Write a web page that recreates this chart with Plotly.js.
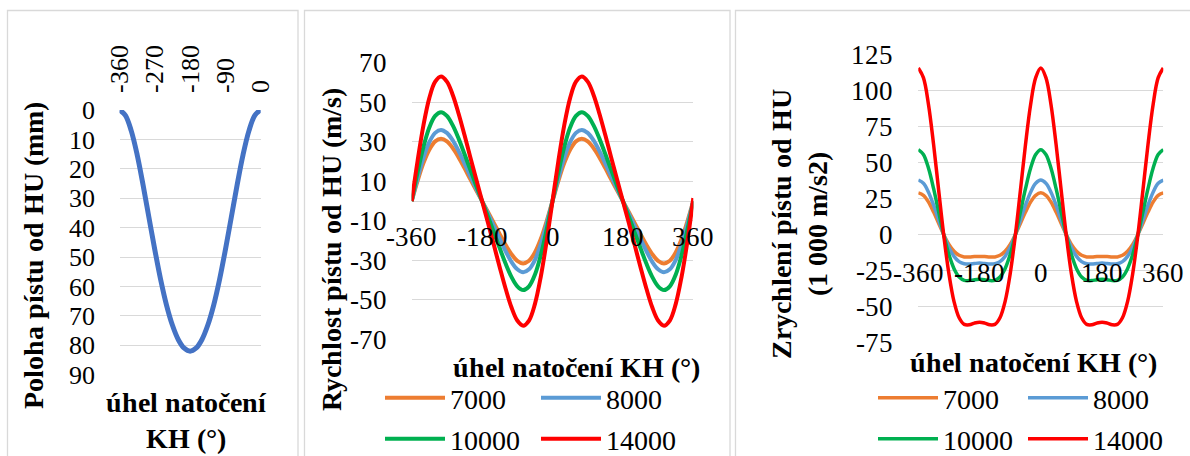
<!DOCTYPE html>
<html>
<head>
<meta charset="utf-8">
<script src="https://cdn.plot.ly/plotly-3.0.1.min.js"></script>
<style>
  @font-face { font-family: 'RefSerif'; src: local('Liberation Serif'), local('LiberationSerif'), local('Liberation Serif Regular'); font-weight: 400; font-style: normal; }
  @font-face { font-family: 'RefSerif'; src: local('Liberation Serif Bold'), local('LiberationSerif-Bold'); font-weight: 700; font-style: normal; }
  html, body { margin: 0; padding: 0; background: #fff; overflow: hidden; }
  #chart { width: 1190px; height: 480px; }
</style>
</head>
<body>
<div id="chart"></div>
<script>
// ---------- DATA ----------
// crank angle (deg) for position chart
const anglesPos = [-360,-345,-330,-315,-300,-285,-270,-255,-240,-225,-210,-195,-180,-165,-150,-135,-120,-105,-90,-75,-60,-45,-30,-15,0];
// piston position from TDC (mm)
const position = [0,1.8,7.1,15.2,25.4,36.5,47.5,57.7,66.4,73.2,78.1,81.0,82.0,81.0,78.1,73.2,66.4,57.7,47.5,36.5,25.4,15.2,7.1,1.8,0];

// crank angle (deg) for velocity / acceleration charts
const angles = [-360,-345,-330,-315,-300,-285,-270,-255,-240,-225,-210,-195,-180,-165,-150,-135,-120,-105,-90,-75,-60,-45,-30,-15,0,15,30,45,60,75,90,105,120,135,150,165,180,195,210,225,240,255,270,285,300,315,330,345,360];

const seriesNames = ['7000','8000','10000','14000'];
const seriesColors = ['#ED7D31','#5B9BD5','#00B050','#FF0000'];

// piston velocity (m/s)
const vel7000  = [0,10.2,19.2,26.0,30.2,31.5,30.2,26.8,22.1,16.7,11.0,5.5,0,-5.5,-11.0,-16.7,-22.1,-26.8,-30.2,-31.5,-30.2,-26.0,-19.2,-10.2,0,10.2,19.2,26.0,30.2,31.5,30.2,26.8,22.1,16.7,11.0,5.5,0,-5.5,-11.0,-16.7,-22.1,-26.8,-30.2,-31.5,-30.2,-26.0,-19.2,-10.2,0];
const vel8000  = [0,11.6,21.9,29.8,34.5,36.0,34.5,30.7,25.3,19.1,12.6,6.3,0,-6.3,-12.6,-19.1,-25.3,-30.7,-34.5,-36.0,-34.5,-29.8,-21.9,-11.6,0,11.6,21.9,29.8,34.5,36.0,34.5,30.7,25.3,19.1,12.6,6.3,0,-6.3,-12.6,-19.1,-25.3,-30.7,-34.5,-36.0,-34.5,-29.8,-21.9,-11.6,0];
const vel10000 = [0,14.5,27.4,37.2,43.1,45.0,43.1,38.3,31.6,23.8,15.8,7.8,0,-7.8,-15.8,-23.8,-31.6,-38.3,-43.1,-45.0,-43.1,-37.2,-27.4,-14.5,0,14.5,27.4,37.2,43.1,45.0,43.1,38.3,31.6,23.8,15.8,7.8,0,-7.8,-15.8,-23.8,-31.6,-38.3,-43.1,-45.0,-43.1,-37.2,-27.4,-14.5,0];
const vel14000 = [0,20.3,38.3,52.1,60.4,63.0,60.4,53.7,44.2,33.4,22.1,11.0,0,-11.0,-22.1,-33.4,-44.2,-53.7,-60.4,-63.0,-60.4,-52.1,-38.3,-20.3,0,20.3,38.3,52.1,60.4,63.0,60.4,53.7,44.2,33.4,22.1,11.0,0,-11.0,-22.1,-33.4,-44.2,-53.7,-60.4,-63.0,-60.4,-52.1,-38.3,-20.3,1.5];

// piston acceleration (1 000 m/s2)
const acc7000  = [29.0,27.3,22.6,15.6,7.6,-0.2,-6.9,-11.7,-14.5,-15.6,-15.7,-15.4,-15.3,-15.4,-15.7,-15.6,-14.5,-11.7,-6.9,-0.2,7.6,15.6,22.6,27.3,29.0,27.3,22.6,15.6,7.6,-0.2,-6.9,-11.7,-14.5,-15.6,-15.7,-15.4,-15.3,-15.4,-15.7,-15.6,-14.5,-11.7,-6.9,-0.2,7.6,15.6,22.6,27.3,29.0];
const acc8000  = [37.9,35.7,29.5,20.4,10.0,-0.3,-9.0,-15.2,-18.9,-20.4,-20.6,-20.2,-19.9,-20.2,-20.6,-20.4,-18.9,-15.2,-9.0,-0.3,10.0,20.4,29.5,35.7,37.9,35.7,29.5,20.4,10.0,-0.3,-9.0,-15.2,-18.9,-20.4,-20.6,-20.2,-19.9,-20.2,-20.6,-20.4,-18.9,-15.2,-9.0,-0.3,10.0,20.4,29.5,35.7,37.9];
const acc10000 = [59.1,55.7,46.1,31.9,15.6,-0.4,-14.0,-23.8,-29.6,-31.9,-32.1,-31.5,-31.2,-31.5,-32.1,-31.9,-29.6,-23.8,-14.0,-0.4,15.6,31.9,46.1,55.7,59.1,55.7,46.1,31.9,15.6,-0.4,-14.0,-23.8,-29.6,-31.9,-32.1,-31.5,-31.2,-31.5,-32.1,-31.9,-29.6,-23.8,-14.0,-0.4,15.6,31.9,46.1,55.7,59.1];
const acc14000 = [115.9,109.2,90.4,62.6,30.5,-0.9,-27.4,-46.7,-58.0,-62.6,-62.9,-61.7,-61.1,-61.7,-62.9,-62.6,-58.0,-46.7,-27.4,-0.9,30.5,62.6,90.4,109.2,115.9,109.2,90.4,62.6,30.5,-0.9,-27.4,-46.7,-58.0,-62.6,-62.9,-61.7,-61.1,-61.7,-62.9,-62.6,-58.0,-46.7,-27.4,-0.9,30.5,62.6,90.4,109.2,115.9];

// tick labels
const xTicks1 = [-360,-270,-180,-90,0];
const xTickText1 = ['-360','-270','-180','-90','0'];
const yTicks1 = [0,10,20,30,40,50,60,70,80,90];
const yTickText1 = ['0','10','20','30','40','50','60','70','80','90'];
const xTicks23 = [-360,-180,0,180,360];
const xTickText23 = ['-360','-180','0','180','360'];
const yTicks2 = [-70,-50,-30,-10,10,30,50,70];
const yTickText2 = ['-70','-50','-30','-10','10','30','50','70'];
const yTicks3 = [-75,-50,-25,0,25,50,75,100,125];
const yTickText3 = ['-75','-50','-25','0','25','50','75','100','125'];

// texts
const title1Y = 'Poloha pístu od HU (mm)';
const title1X = 'úhel natočení<br>KH (°)';
const title2Y = 'Rychlost pístu od HU (m/s)';
const titleX = 'úhel natočení KH (°)';
const title3Y = 'Zrychlení pístu od HU<br>(1 000 m/s2)';

// ---------- LAYOUT HELPERS ----------
const W = 1190, H = 480;           // figure a bit taller than the window; bottom is cut like the source
const px = x => x / W;
const py = y => 1 - y / H;
const SERIF = 'RefSerif, "Liberation Serif", "Times New Roman", serif';
const GRID = '#D9D9D9';
const sfont = size => ({family: SERIF, size: size, color: '#000'});

function draw() {
  const velSeries = [vel7000, vel8000, vel10000, vel14000];
  const accSeries = [acc7000, acc8000, acc10000, acc14000];

  const traces = [];
  traces.push({
    x: anglesPos, y: position, type: 'scatter', mode: 'lines',
    line: {color: '#4472C4', width: 5, shape: 'spline'},
    xaxis: 'x', yaxis: 'y', showlegend: false, hoverinfo: 'skip'
  });
  seriesNames.forEach((n, i) => {
    traces.push({
      x: angles, y: velSeries[i], type: 'scatter', mode: 'lines', name: n,
      line: {color: seriesColors[i], width: 4, shape: 'spline'},
      xaxis: 'x2', yaxis: 'y2', legend: i < 2 ? 'legend' : 'legend2', hoverinfo: 'skip'
    });
  });
  seriesNames.forEach((n, i) => {
    traces.push({
      x: angles, y: accSeries[i], type: 'scatter', mode: 'lines', name: n,
      line: {color: seriesColors[i], width: 3.5, shape: 'spline'},
      xaxis: 'x3', yaxis: 'y3', legend: i < 2 ? 'legend3' : 'legend4', hoverinfo: 'skip'
    });
  });

  const y2dom = [py(339.5), py(62.7)];
  const y3dom = [py(342.2), py(55)];
  const y2range = [-70, 70];
  const y3range = [-75, 125];
  const zeroPos = (dom, rng) => dom[0] + (0 - rng[0]) / (rng[1] - rng[0]) * (dom[1] - dom[0]);

  const axisBase = {showline: false, ticks: '', fixedrange: true, color: '#000', tickfont: sfont(27)};

  const legendBase = {
    orientation: 'h', xanchor: 'left', yanchor: 'middle',
    font: sfont(28), bgcolor: 'rgba(0,0,0,0)', borderwidth: 0,
    itemwidth: 60, entrywidthmode: 'pixels', traceorder: 'normal'
  };

  const frame = (x0, x1) => ({
    type: 'rect', xref: 'paper', yref: 'paper',
    x0: px(x0), x1: px(x1), y0: -0.1, y1: py(10.5),
    line: {color: GRID, width: 1.3}, fillcolor: 'rgba(0,0,0,0)', layer: 'below'
  });

  const ann = (text, x, y, angle) => ({
    text: '<b>' + text + '</b>', xref: 'paper', yref: 'paper', x: px(x), y: py(y),
    xanchor: 'center', yanchor: 'middle', showarrow: false, textangle: angle || 0,
    font: sfont(28)
  });

  const layout = {
    width: W, height: H,
    margin: {l: 0, r: 0, t: 0, b: 0},
    paper_bgcolor: '#FFFFFF', plot_bgcolor: 'rgba(0,0,0,0)',
    font: sfont(27),
    showlegend: true,
    xaxis: Object.assign({}, axisBase, {
      domain: [px(119.5), px(260.7)], range: [-360, 0], side: 'top', anchor: 'y',
      tickmode: 'array', tickvals: xTicks1, ticktext: xTickText1, tickangle: -90,
      showgrid: false, zeroline: false, ticklabelstandoff: 16, tickfont: sfont(26)
    }),
    yaxis: Object.assign({}, axisBase, {
      domain: [py(374.7), py(110)], range: [90, 0], anchor: 'x',
      tickmode: 'array', tickvals: yTicks1, ticktext: yTickText1,
      showgrid: true, gridcolor: GRID, gridwidth: 1, zeroline: false, ticklabelstandoff: 24,
      tickfont: sfont(26)
    }),
    xaxis2: Object.assign({}, axisBase, {
      domain: [px(411.7), px(693.3)], range: [-360, 360], anchor: 'free',
      position: zeroPos(y2dom, y2range),
      tickmode: 'array', tickvals: xTicks23, ticktext: xTickText23,
      showgrid: false, zeroline: false, ticklabelstandoff: 17
    }),
    yaxis2: Object.assign({}, axisBase, {
      domain: y2dom, range: y2range, anchor: 'x2',
      tickmode: 'array', tickvals: yTicks2, ticktext: yTickText2,
      showgrid: true, gridcolor: GRID, gridwidth: 1,
      zeroline: true, zerolinecolor: GRID, zerolinewidth: 1.2, ticklabelstandoff: 24
    }),
    xaxis3: Object.assign({}, axisBase, {
      domain: [px(918.3), px(1163.3)], range: [-360, 360], anchor: 'free',
      position: zeroPos(y3dom, y3range),
      tickmode: 'array', tickvals: xTicks23, ticktext: xTickText23,
      showgrid: false, zeroline: false, ticklabelstandoff: 19
    }),
    yaxis3: Object.assign({}, axisBase, {
      domain: y3dom, range: y3range, anchor: 'x3',
      tickmode: 'array', tickvals: yTicks3, ticktext: yTickText3,
      showgrid: true, gridcolor: GRID, gridwidth: 1,
      zeroline: true, zerolinecolor: GRID, zerolinewidth: 1.2, ticklabelstandoff: 24
    }),
    legend:  Object.assign({}, legendBase, {x: px(380), y: py(398), entrywidth: 81}),
    legend2: Object.assign({}, legendBase, {x: px(380), y: py(439), entrywidth: 81}),
    legend3: Object.assign({}, legendBase, {x: px(873), y: py(398), entrywidth: 75}),
    legend4: Object.assign({}, legendBase, {x: px(873), y: py(439), entrywidth: 75}),
    shapes: [frame(7.5, 298), frame(304.5, 730), frame(735.5, 1200)],
    annotations: [
      ann(title1Y, 32.5, 255, -90),
      ann(title1X, 186, 420, 0),
      ann(title2Y, 331, 249.5, -90),
      ann(titleX, 576.5, 367, 0),
      ann(title3Y, 799, 224, -90),
      ann(titleX, 1033.5, 362, 0)
    ]
  };

  return Plotly.newPlot('chart', traces, layout, {displayModeBar: false, staticPlot: true});
}

const fontReady = (document.fonts && document.fonts.load)
  ? Promise.all([
      document.fonts.load('27px RefSerif'),
      document.fonts.load('bold 28px RefSerif')
    ]).catch(() => null)
  : Promise.resolve();
Promise.race([fontReady, new Promise(r => setTimeout(r, 800))]).then(draw);
</script>
</body>
</html>
